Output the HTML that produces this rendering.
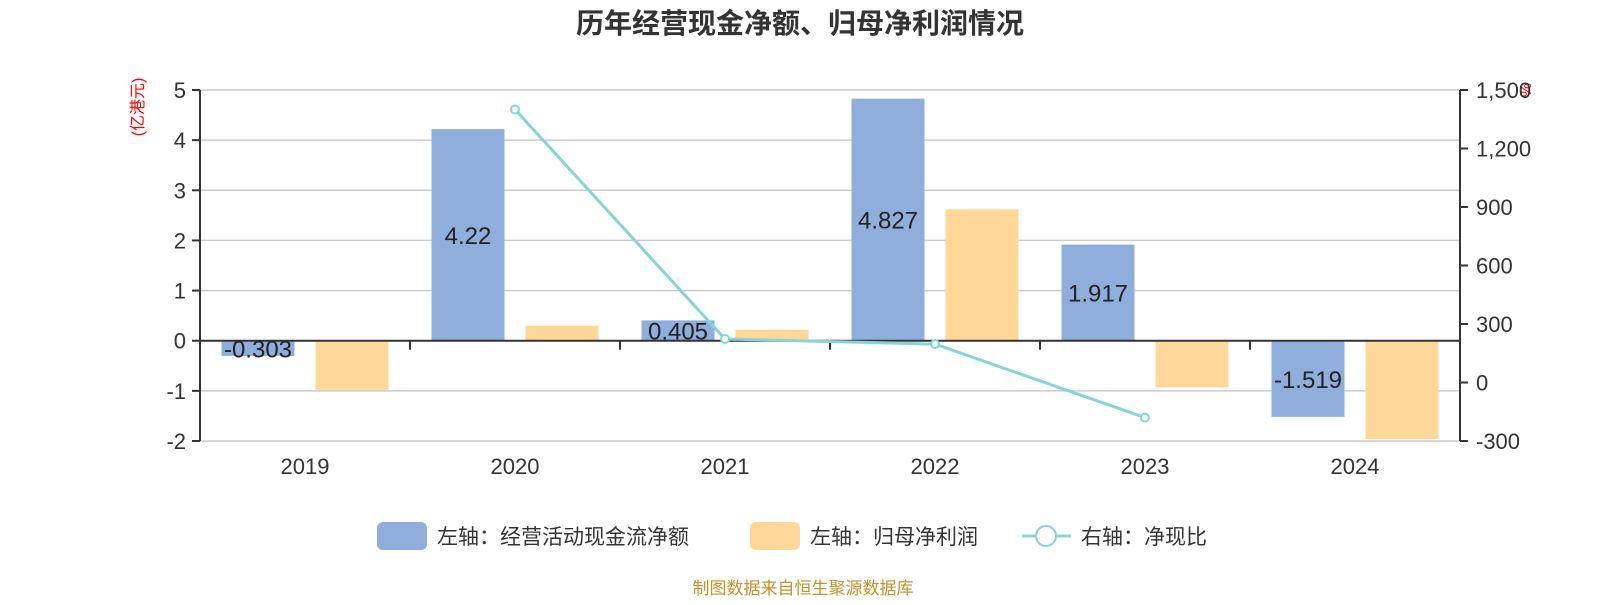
<!DOCTYPE html>
<html><head><meta charset="utf-8">
<style>
html,body{margin:0;padding:0;background:#fff;}
body{width:1600px;height:600px;overflow:hidden;font-family:"Liberation Sans","Noto Sans CJK SC",sans-serif;}
</style></head>
<body>
<svg id="chart" width="1600" height="600" xmlns="http://www.w3.org/2000/svg" font-family="Liberation Sans, Noto Sans CJK SC, sans-serif">
<text x="800" y="33" text-anchor="middle" font-size="28" font-weight="bold" fill="#333">历年经营现金净额、归母净利润情况</text>
<text transform="translate(143,107) rotate(-90)" text-anchor="middle" font-size="16" fill="#f00">(亿港元)</text>
<text transform="translate(1520,90) rotate(90)" text-anchor="middle" font-size="16" fill="#f00">%</text>
<g id="grid"></g><g id="bars"></g><g id="axes"></g><g id="line"></g><g id="labels"></g>
<g font-size="21" fill="#333">
<rect x="377" y="522" width="50" height="28" rx="6" fill="#8faedb"/>
<text x="437" y="544">左轴：经营活动现金流净额</text>
<rect x="750" y="522" width="50" height="28" rx="6" fill="#ffd899"/>
<text x="810" y="544">左轴：归母净利润</text>
<line x1="1022" y1="536" x2="1071" y2="536" stroke="#86d4d8" stroke-width="3"/>
<circle cx="1046" cy="536" r="10" fill="#fff" stroke="#86d4d8" stroke-width="2"/>
<text x="1081" y="544">右轴：净现比</text>
</g>
<text x="803" y="594" text-anchor="middle" font-size="17" fill="#c8902a">制图数据来自恒生聚源数据库</text>
</svg>
<script>
const categories=["2019","2020","2021","2022","2023","2024"];
const cashValues=[-0.303,4.22,0.405,4.827,1.917,-1.519];
const profitValues=[-0.98,0.3,0.22,2.62,-0.93,-1.96];
const ratioValues=[null,1400,223,197,-180,null];
const leftTicks=[5,4,3,2,1,0,-1,-2];
const rightTicks=[1500,1200,900,600,300,0,-300];
const rightTickLabels=["1,500","1,200","900","600","300","0","-300"];
const NS="http://www.w3.org/2000/svg";
const X0=200,X1=1460,Y5=90,Ym2=441;
const bw=(X1-X0)/categories.length;
function yL(v){return Y5+(5-v)*(Ym2-Y5)/7;}
function yR(v){return Y5+(1500-v)*(Ym2-Y5)/1800;}
function xC(i){return X0+bw*(i+0.5);}
function mk(tag,attrs,parent){const e=document.createElementNS(NS,tag);for(const k in attrs)e.setAttribute(k,attrs[k]);document.getElementById(parent).appendChild(e);return e;}
leftTicks.forEach(t=>{
 const g=mk('line',{x1:X0,x2:X1,y1:yL(t),y2:yL(t),stroke:'#ccc','stroke-width':1.5},'grid');
 
 
 const tk=mk('line',{x1:X0-8,x2:X0,y1:yL(t),y2:yL(t),stroke:'#333','stroke-width':2},'axes');
 
 
 const tx=mk('text',{x:X0-14,y:yL(t)+8,'text-anchor':'end','font-size':22,fill:'#333'},'axes');
 
 
 tx.textContent=t;
});
rightTicks.forEach((t,i)=>{
 const tk=mk('line',{x1:X1,x2:X1+8,y1:yR(t),y2:yR(t),stroke:'#333','stroke-width':2},'axes');
 
 
 const tx=mk('text',{x:X1+16,y:yR(t)+8,'font-size':22,fill:'#333'},'axes');
 
 
 tx.textContent=rightTickLabels[i];
});
let a=mk('line',{x1:X0,x2:X0,y1:Y5,y2:Ym2,stroke:'#333','stroke-width':2},'axes');


a=mk('line',{x1:X1,x2:X1,y1:Y5,y2:Ym2,stroke:'#333','stroke-width':2},'axes');


a=mk('line',{x1:X0,x2:X1,y1:yL(0),y2:yL(0),stroke:'#333','stroke-width':2},'axes');


categories.forEach((c,i)=>{
 if(i>0){const tk=mk('line',{x1:X0+bw*i,x2:X0+bw*i,y1:yL(0),y2:yL(0)+9,stroke:'#333','stroke-width':2},'axes');
 
 }
 const tx=mk('text',{x:xC(i),y:Ym2+33,'text-anchor':'middle','font-size':22,fill:'#333'},'axes');
 
 
 tx.textContent=c;
 const w=73;
 const v=cashValues[i],yb=Math.min(yL(v),yL(0)),h=Math.abs(yL(v)-yL(0));
 const b=mk('rect',{x:xC(i)-47-w/2,y:yb,width:w,height:h,fill:'#8faedb'},'bars');
 
 
 const p=profitValues[i],yp=Math.min(yL(p),yL(0)),hp=Math.abs(yL(p)-yL(0));
 const b2=mk('rect',{x:xC(i)+47-w/2,y:yp,width:w,height:hp,fill:'#ffd899'},'bars');
 
 
 const lb=mk('text',{x:xC(i)-47,y:(yL(v)+yL(0))/2+9,'text-anchor':'middle','font-size':24,fill:'#222'},'labels');
 
 
 lb.textContent=v;
});
const pts=[];ratioValues.forEach((r,i)=>{if(r!==null)pts.push([xC(i),yR(r)]);});
const pl=mk('polyline',{points:pts.map(p=>p.join(',')).join(' '),fill:'none',stroke:'#86d4d8','stroke-width':3},'line');


pts.forEach(p=>{const c=mk('circle',{cx:p[0],cy:p[1],r:4,fill:'#fff',stroke:'#86d4d8','stroke-width':2},'line');
 
 });
</script>
</body></html>
